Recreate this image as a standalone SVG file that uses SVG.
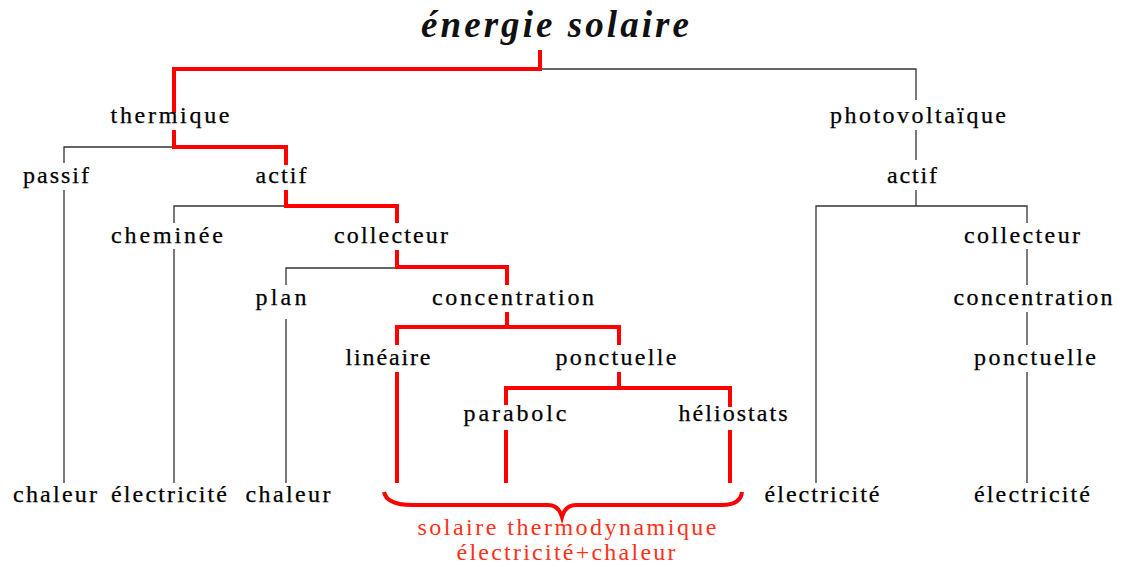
<svg xmlns="http://www.w3.org/2000/svg" width="1123" height="567" viewBox="0 0 1123 567">
<style>
.t{font-family:"Liberation Serif","Times New Roman",serif;font-size:24px;fill:#000;stroke:#000;stroke-width:0.25;text-anchor:middle}
.r{font-family:"Liberation Serif","Times New Roman",serif;font-size:24px;fill:#ff3019;text-anchor:middle}
.k{fill:none;stroke:#333;stroke-width:1.3}
.h{fill:none;stroke:#ff0000;stroke-width:4;stroke-linejoin:miter}
</style>
<rect width="1123" height="567" fill="#fff"/>
<g id="connectors">
<path class="k" d="M540,69 H916 V100"/>
<path class="k" d="M174,147 H64 V163"/>
<path class="k" d="M64,190 V483"/>
<path class="k" d="M916,130 V160"/>
<path class="k" d="M916,190 V206"/>
<path class="k" d="M816,483 V206 H1027 V223"/>
<path class="k" d="M286,206 H174 V223"/>
<path class="k" d="M174,249 V483"/>
<path class="k" d="M397,268 H286 V285"/>
<path class="k" d="M286,319 V483"/>
<path class="k" d="M1027,249 V285"/>
<path class="k" d="M1027,312 V345"/>
<path class="k" d="M1027,372 V483"/>
<path class="h" d="M540,50 V69 H174 V113"/>
<path class="h" d="M174,130 V147 H286 V165"/>
<path class="h" d="M286,190 V206 H397 V223"/>
<path class="h" d="M397,250 V267 H507 V285"/>
<path class="h" d="M507,312 V327"/>
<path class="h" d="M397,345 V327 H619 V345"/>
<path class="h" d="M397,372 V483"/>
<path class="h" d="M619,372 V388"/>
<path class="h" d="M506,405 V388 H730 V407"/>
<path class="h" d="M506,430 V483"/>
<path class="h" d="M730,430 V483"/>
<path class="h" d="M384,492 C386,501 396,505 412,505 L548,505 C556,505 560,510 562,517 C564,510 568,505 576,505 L722,505 C735,505 741,500 742,492"/>
</g>
<g id="title"><text x="555" y="37" textLength="268" lengthAdjust="spacing" style="font-family:'Liberation Serif','Times New Roman',serif;font-size:37px;font-weight:bold;font-style:italic;fill:#111;text-anchor:middle">énergie solaire</text></g>
<g id="thermique"><text class="t" x="170" y="123" textLength="119" lengthAdjust="spacing">thermique</text></g>
<g id="photovoltaique"><text class="t" x="918" y="123" textLength="176" lengthAdjust="spacing">photovoltaïque</text></g>
<g id="passif"><text class="t" x="56" y="183" textLength="66" lengthAdjust="spacing">passif</text></g>
<g id="actif1"><text class="t" x="281" y="183" textLength="51" lengthAdjust="spacing">actif</text></g>
<g id="actif2"><text class="t" x="912" y="183" textLength="50" lengthAdjust="spacing">actif</text></g>
<g id="cheminee"><text class="t" x="167" y="243" textLength="112" lengthAdjust="spacing">cheminée</text></g>
<g id="collecteur1"><text class="t" x="391" y="243" textLength="114" lengthAdjust="spacing">collecteur</text></g>
<g id="collecteur2"><text class="t" x="1022" y="243" textLength="116" lengthAdjust="spacing">collecteur</text></g>
<g id="plan"><text class="t" x="281" y="305" textLength="51" lengthAdjust="spacing">plan</text></g>
<g id="concentration1"><text class="t" x="513" y="305" textLength="162" lengthAdjust="spacing">concentration</text></g>
<g id="concentration2"><text class="t" x="1033" y="305" textLength="159" lengthAdjust="spacing">concentration</text></g>
<g id="lineaire"><text class="t" x="388" y="365" textLength="85" lengthAdjust="spacing">linéaire</text></g>
<g id="ponctuelle1"><text class="t" x="616" y="365" textLength="121" lengthAdjust="spacing">ponctuelle</text></g>
<g id="ponctuelle2"><text class="t" x="1035" y="365" textLength="122" lengthAdjust="spacing">ponctuelle</text></g>
<g id="parabolc"><text class="t" x="515" y="421" textLength="103" lengthAdjust="spacing">parabolc</text></g>
<g id="heliostats"><text class="t" x="733" y="421" textLength="109" lengthAdjust="spacing">héliostats</text></g>
<g id="chaleur1"><text class="t" x="55" y="502" textLength="84" lengthAdjust="spacing">chaleur</text></g>
<g id="electricite1"><text class="t" x="169" y="502" textLength="116" lengthAdjust="spacing">électricité</text></g>
<g id="chaleur2"><text class="t" x="288" y="502" textLength="85" lengthAdjust="spacing">chaleur</text></g>
<g id="electricite2"><text class="t" x="822" y="502" textLength="115" lengthAdjust="spacing">électricité</text></g>
<g id="electricite3"><text class="t" x="1032" y="502" textLength="116" lengthAdjust="spacing">électricité</text></g>
<g id="thermo"><text class="r" x="567" y="535" textLength="299" lengthAdjust="spacing">solaire thermodynamique</text><text class="r" x="566" y="560" textLength="219" lengthAdjust="spacing">électricité+chaleur</text></g>
</svg>
